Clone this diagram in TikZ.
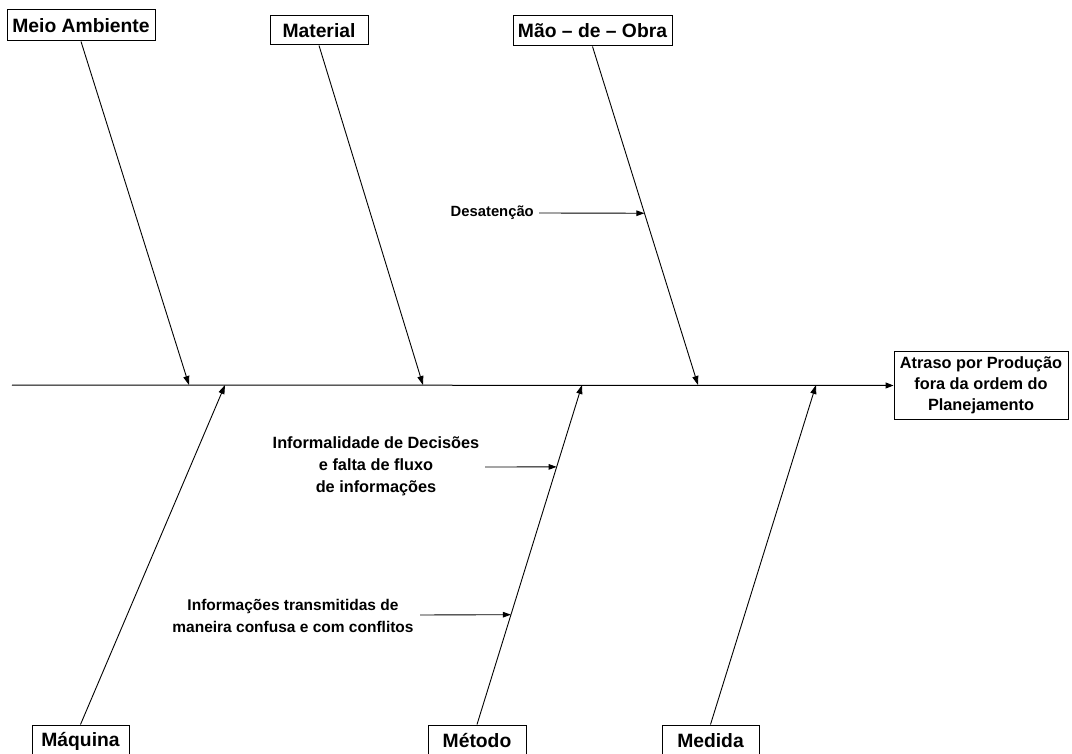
\documentclass[tikz,border=0pt]{standalone}
\usepackage{fontspec}
\setmainfont{Liberation Sans}
\usetikzlibrary{arrows.meta,calc}
\tikzset{
  cat/.style={draw=black, line width=1pt, fill=white, inner sep=0pt,
    font=\fontsize{19.3}{22}\selectfont\bfseries},
  effect/.style={draw=black, line width=1pt, fill=white, inner sep=0pt, align=center,
    font=\fontsize{16.3}{21}\selectfont\bfseries},
  cause/.style={inner sep=0pt, align=center, font=\fontsize{16.3}{22}\selectfont\bfseries},
  bone/.style={line width=0.9pt, -{Triangle[length=9pt,width=6pt]}},
  twig/.style={line width=0.9pt, -{Triangle[length=8pt,width=5.5pt]}}
}
\begin{document}
\begin{tikzpicture}[x=1pt,y=-1pt]
\clip (0,0) rectangle (1072,754);
\fill[white] (0,0) rectangle (1072,754);

% category boxes, top row
\node[cat, minimum width=148pt, minimum height=31pt] (meio) at (81,25.5) {Meio Ambiente};
\node[cat, minimum width=98pt, minimum height=29pt] (mat) at (319,30.5) {Material};
\node[cat, minimum width=159pt, minimum height=30pt] (mao) at (592.5,31) {Mão – de – Obra};

% category boxes, bottom row (running off the lower edge)
\node[cat, minimum width=97pt, minimum height=32pt] (maq) at (80.5,741) {Máquina};
\node[cat, minimum width=98pt, minimum height=32pt] (met) at (477,741) {Método};
\node[cat, minimum width=97pt, minimum height=32pt] (med) at (710.5,741) {Medida};

% effect box
\node[effect, minimum width=174pt, minimum height=68pt] (eff) at (981,385.5)
  {Atraso por Produção\\fora da ordem do\\Planejamento};

% spine
\coordinate (tail) at (12,385);
\draw[line width=1pt, -{Triangle[length=8pt,width=6pt]}] (tail) -- (eff.west);

% points where the bones meet the spine
\coordinate (jmeio) at (189,385);
\coordinate (jmat) at (423,385);
\coordinate (jmao) at (698,385);
\coordinate (jmaq) at (225,385);
\coordinate (jmet) at (582,385);
\coordinate (jmed) at (816,385);

\draw[bone] (meio.south) -- (jmeio);
\draw[bone] (mat.south) -- (jmat);
\draw[bone] (mao.south) -- (jmao);
\draw[bone] (maq.north) -- (jmaq);
\draw[bone] (met.north) -- (jmet);
\draw[bone] (med.north) -- (jmed);

% secondary causes
\node[cause, font=\fontsize{14.8}{18}\selectfont\bfseries, anchor=east] (desat) at (534,213) {Desatenção};
\coordinate (sdesat) at (539,213);
\coordinate (pdesat) at ($(mao.south)!0.4926!(jmao)$);
\draw[twig] (sdesat) -- (pdesat);

\node[cause] (infd) at (376,466) {Informalidade de Decisões\\e falta de fluxo\\de informações};
\coordinate (sinfd) at (485,467);
\coordinate (pinfd) at ($(met.north)!0.7588!(jmet)$);
\draw[twig] (sinfd) -- (pinfd);

\node[cause, font=\fontsize{15.5}{22}\selectfont\bfseries] (inft) at (293,616) {Informações transmitidas de\\maneira confusa e com conflitos};
\coordinate (sinft) at (420,615);
\coordinate (pinft) at ($(met.north)!0.3235!(jmet)$);
\draw[twig] (sinft) -- (pinft);
\end{tikzpicture}
\end{document}
